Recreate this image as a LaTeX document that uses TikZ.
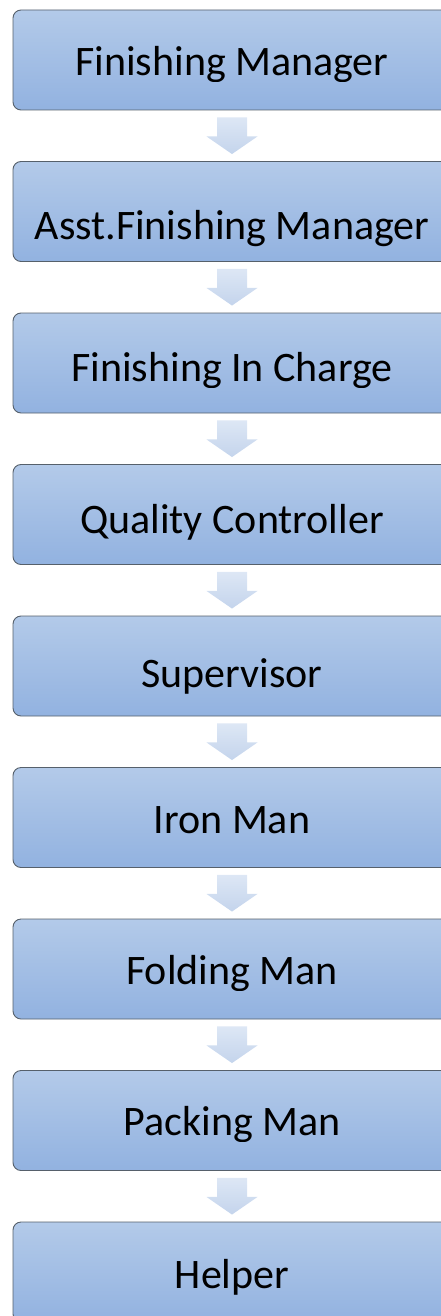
\documentclass[tikz,border=0pt]{standalone}
\usepackage{fontspec}
\setmainfont{Carlito}
\usetikzlibrary{calc}
\definecolor{boxtop}{HTML}{B3CAE9}
\definecolor{boxbot}{HTML}{92B2E0}
\definecolor{boxline}{HTML}{56606B}
\definecolor{arrtop}{HTML}{DDE7F5}
\definecolor{arrbot}{HTML}{C4D4EC}

% box centred at (232,y)
\newcommand{\stagebox}[2]{%
  \node[stagebox] (#1) at (232,#2) {};
}
% label with its baseline at y
\newcommand{\stagetext}[3]{%
  \node[stagelabel] (#1t) at (232,#2) {#3};
}
% label whose descenders are cut at a given height
\newcommand{\stagetextcut}[4]{%
  \begin{scope}
    \clip (0,#4) rectangle (441,#2+40);
    \node[stagelabel] (#1t) at (232,#2) {#3};
  \end{scope}
}

\begin{document}
\begin{tikzpicture}[x=1pt,y=1pt,
  stagebox/.style={draw=boxline, line width=0.9pt, rounded corners=8pt,
    top color=boxtop, bottom color=boxbot,
    minimum width=438pt, minimum height=100pt, inner sep=0pt},
  stagelabel/.style={anchor=base, font=\fontsize{42}{50}\selectfont,
    inner sep=0pt, text=black},
  flowarrow/.style={top color=arrtop, bottom color=arrbot, draw=none}]
\useasboundingbox (0,0) rectangle (441,-1316);

% boxes
\stagebox{s1}{-60}
\stagebox{s2}{-211.5}
\stagebox{s3}{-363}
\stagebox{s4}{-514.5}
\stagebox{s5}{-666}
\stagebox{s6}{-817.5}
\stagebox{s7}{-969}
\stagebox{s8}{-1120.5}
\stagebox{s9}{-1272}

% labels
\stagetextcut{s1}{-76}{Finishing Manager}{-82}
\stagetext{s2}{-239}{Asst.Finishing Manager}
\stagetextcut{s3}{-381}{Finishing In Charge}{-387}
\stagetext{s4}{-533}{Quality Controller}
\stagetext{s5}{-687}{Supervisor}
\stagetext{s6}{-833.5}{Iron Man}
\stagetextcut{s7}{-984}{Folding Man}{-990}
\stagetextcut{s8}{-1135.5}{Packing Man}{-1141.5}
\stagetext{s9}{-1288}{Helper}

% block arrows between consecutive boxes
\foreach \a/\b in {s1/s2,s2/s3,s3/s4,s4/s5,s5/s6,s6/s7,s7/s8,s8/s9}{
  \path[flowarrow]
    ($(\a.south)+(-15,-7)$) -- ($(\a.south)+(15,-7)$) --
    ($(\a.south)+(15,-26)$) -- ($(\a.south)+(25.5,-26)$) --
    ($(\b.north)+(0,7)$) --
    ($(\a.south)+(-25.5,-26)$) -- ($(\a.south)+(-15,-26)$) -- cycle;
}
\end{tikzpicture}
\end{document}
